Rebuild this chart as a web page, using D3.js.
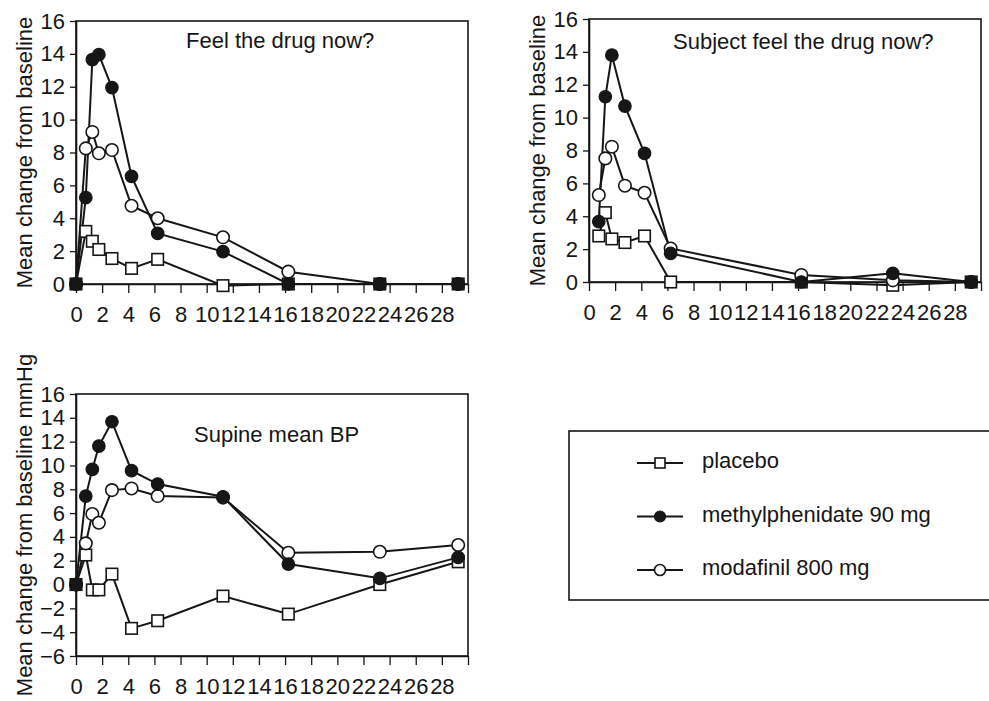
<!DOCTYPE html>
<html><head><meta charset="utf-8">
<script src="https://cdn.jsdelivr.net/npm/d3@7"></script>
<style>
body{margin:0;background:#fff;}
svg{display:block;font-family:"Liberation Sans",Arial,Helvetica,sans-serif;}
</style></head><body>
<svg id="chart" width="989" height="701"></svg>
<script>
// ---- data ----
const times = [0, 0.75, 1.25, 1.75, 2.75, 4.25, 6.25, 11.25, 16.25, 23.25, 29.25];
const seriesNames = ["placebo", "methylphenidate 90 mg", "modafinil 800 mg"];

const feelPlacebo = [0, 3.2, 2.6, 2.1, 1.55, 0.95, 1.5, -0.1, 0, 0, 0];
const feelMethyl  = [0, 5.25, 13.65, 13.95, 11.95, 6.55, 3.08, 1.97, 0, 0, 0];
const feelModaf   = [0, 8.25, 9.25, 7.95, 8.15, 4.76, 4.0, 2.84, 0.75, 0, 0];

const subjPlacebo = [null, 2.8, 4.22, 2.62, 2.4, 2.8, 0, null, 0, -0.2, 0];
const subjMethyl  = [null, 3.67, 11.27, 13.8, 10.7, 7.83, 1.74, null, 0, 0.53, 0];
const subjModaf   = [null, 5.29, 7.52, 8.23, 5.86, 5.43, 2.04, null, 0.43, 0.1, 0];

const bpPlacebo = [0, 2.48, -0.45, -0.45, 0.88, -3.68, -3.04, -0.97, -2.48, 0, 1.91];
const bpMethyl  = [0, 7.43, 9.67, 11.63, 13.67, 9.56, 8.44, 7.37, 1.72, 0.52, 2.28];
const bpModaf   = [0, 3.46, 5.92, 5.19, 7.93, 8.07, 7.43, 7.3, 2.67, 2.75, 3.32];

const xTickValues = d3.range(0, 31, 2);
const xTickLabels = d3.range(0, 29, 2);
const yTicksFeel = d3.range(0, 17, 2);
const yTicksBP = d3.range(-6, 17, 2);

const panelTitles = ["Feel the drug now?", "Subject feel the drug now?", "Supine mean BP"];
const yTitles = ["Mean change from baseline", "Mean change from baseline", "Mean change from baseline mmHg"];

// ---- layout ----
const INK = "#161616";
const svg = d3.select("#chart");
svg.append("rect").attr("width", 989).attr("height", 701).attr("fill", "#fff");

const panels = [
  {title: panelTitles[0], ytitle: yTitles[0], series: [feelPlacebo, feelMethyl, feelModaf],
   yDomain: [0, 16], yTicks: yTicksFeel, x0: 76, x1: 468, yTop: 21, yBot: 284, tx: 186, ty: 48},
  {title: panelTitles[1], ytitle: yTitles[1], series: [subjPlacebo, subjMethyl, subjModaf],
   yDomain: [0, 16], yTicks: yTicksFeel, x0: 589, x1: 981, yTop: 19, yBot: 282, tx: 673, ty: 49},
  {title: panelTitles[2], ytitle: yTitles[2], series: [bpPlacebo, bpMethyl, bpModaf],
   yDomain: [-6, 16], yTicks: yTicksBP, x0: 76, x1: 468, yTop: 394, yBot: 656, tx: 194, ty: 442}
];

function drawMarker(g, kind, cx, cy, size) {
  if (kind === 0) {
    g.append("rect").attr("x", cx - size / 2).attr("y", cy - size / 2)
      .attr("width", size).attr("height", size)
      .attr("fill", "#fff").attr("stroke", INK).attr("stroke-width", 1.6);
  } else if (kind === 1) {
    g.append("circle").attr("cx", cx).attr("cy", cy).attr("r", size / 2 + 0.5)
      .attr("fill", INK).attr("stroke", INK).attr("stroke-width", 1.2);
  } else {
    g.append("circle").attr("cx", cx).attr("cy", cy).attr("r", size / 2 + 0.5)
      .attr("fill", "#fff").attr("stroke", INK).attr("stroke-width", 1.6);
  }
}

panels.forEach(p => {
  const x = d3.scaleLinear().domain([0, 30]).range([p.x0, p.x1]);
  const y = d3.scaleLinear().domain(p.yDomain).range([p.yBot, p.yTop]);
  const g = svg.append("g");

  // frame
  g.append("rect").attr("x", p.x0).attr("y", p.yTop)
    .attr("width", p.x1 - p.x0).attr("height", p.yBot - p.yTop)
    .attr("fill", "none").attr("stroke", INK).attr("stroke-width", 1.6);

  // x axis
  const xa = g.append("g").attr("transform", `translate(0,${p.yBot})`)
    .call(d3.axisBottom(x).tickValues(xTickValues).tickSize(9).tickPadding(13).tickSizeOuter(0)
      .tickFormat(d => xTickLabels.includes(d) ? d : ""));
  // y axis
  const ya = g.append("g").attr("transform", `translate(${p.x0},0)`)
    .call(d3.axisLeft(y).tickValues(p.yTicks).tickSize(6).tickPadding(5).tickSizeOuter(0));
  [xa, ya].forEach(a => {
    a.select(".domain").attr("stroke", INK).attr("stroke-width", 1.6);
    a.selectAll(".tick line").attr("stroke", INK).attr("stroke-width", 1.3);
    a.selectAll(".tick text").attr("fill", INK).attr("font-size", 22)
      .attr("font-family", "'Liberation Sans', Arial, sans-serif");
  });

  // titles
  g.append("text").attr("x", p.tx).attr("y", p.ty).attr("font-size", 22).attr("fill", INK).text(p.title);
  g.append("text")
    .attr("transform", `translate(${p.x0 - 44},${(p.yTop + p.yBot) / 2}) rotate(-90)`)
    .attr("text-anchor", "middle").attr("font-size", 22).attr("fill", INK).text(p.ytitle);

  // series: lines
  const line = d3.line().x(d => x(d.t)).y(d => y(d.v));
  const pts = p.series.map(vals => times.map((t, i) => ({t, v: vals[i]})).filter(d => d.v !== null));
  pts.forEach(ps => {
    g.append("path").datum(ps).attr("d", line)
      .attr("fill", "none").attr("stroke", INK).attr("stroke-width", 2);
  });
  // markers: placebo, modafinil, methylphenidate
  [0, 2, 1].forEach(k => {
    const mg = g.append("g");
    pts[k].forEach(d => drawMarker(mg, k, x(d.t), y(d.v), 11.5));
  });
});

// legend
const lg = svg.append("g");
lg.append("rect").attr("x", 569).attr("y", 431).attr("width", 440).attr("height", 169)
  .attr("fill", "#fff").attr("stroke", INK).attr("stroke-width", 1.6);
const legendY = d3.scalePoint().domain(seriesNames).range([463, 570]);
seriesNames.forEach((name, k) => {
  const cy = legendY(name);
  lg.append("line").attr("x1", 637).attr("x2", 683).attr("y1", cy).attr("y2", cy)
    .attr("stroke", INK).attr("stroke-width", 1.8);
  drawMarker(lg, k, 660, cy, 10);
  lg.append("text").attr("x", 702).attr("y", cy + 5).attr("font-size", 22).attr("fill", INK).text(name);
});
</script>
</body></html>
